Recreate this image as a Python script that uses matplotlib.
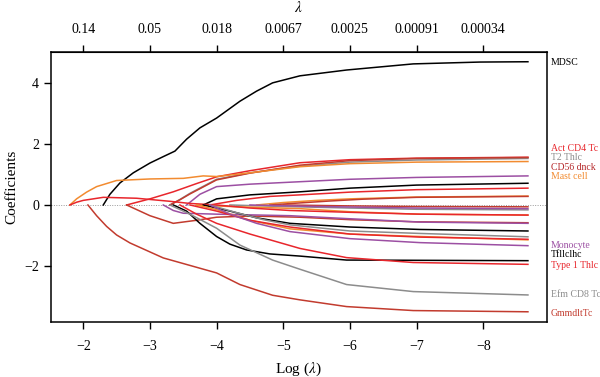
import matplotlib
matplotlib.use("Agg")
import matplotlib.pyplot as plt

plt.rcParams['font.family'] = ['Liberation Serif', 'DejaVu Serif']
plt.rcParams['mathtext.fontset'] = 'stix'

BLACK = '#000000'
RED = '#e8262c'
GRAY = '#8c8c8c'
ORANGE = '#f28b30'
PURPLE = '#9c4fa3'
BROWN = '#c23b2e'

# coefficient paths: (log lambda knots, coefficients, colour)
paths = [
    ([-2.3, -2.4, -2.55, -2.75, -3.0, -3.2, -3.375, -3.55, -3.75, -4.0, -4.35, -4.6, -4.84, -5.25, -5.95, -6.95, -7.95, -8.67],
     [0, 0.35, 0.72, 1.05, 1.37, 1.58, 1.76, 2.15, 2.52, 2.84, 3.39, 3.72, 3.99, 4.22, 4.41, 4.61, 4.67, 4.68], BLACK),
    ([-2.65, -3.0, -3.35, -3.7, -4.0, -4.5, -5.25, -6.0, -7.0, -8.67],
     [0, 0.2, 0.43, 0.7, 0.92, 1.12, 1.38, 1.48, 1.53, 1.56], RED),
    ([-3.3, -3.45, -3.6, -4.0, -4.5, -5.25, -6.0, -7.0, -8.67],
     [0, 0.18, 0.38, 0.84, 1.05, 1.27, 1.40, 1.47, 1.52], GRAY),
    ([-3.3, -3.45, -3.6, -4.0, -4.5, -5.25, -6.0, -7.0, -8.67],
     [0, 0.17, 0.36, 0.82, 1.04, 1.30, 1.45, 1.52, 1.55], BROWN),
    ([-1.8, -1.9, -2.05, -2.2, -2.5, -3.0, -3.5, -3.8, -4.0, -4.5, -5.25, -6.0, -7.0, -8.67],
     [0, 0.2, 0.42, 0.6, 0.8, 0.85, 0.87, 0.95, 0.93, 1.05, 1.25, 1.35, 1.4, 1.42], ORANGE),
    ([-3.55, -3.75, -4.0, -4.5, -5.25, -6.0, -7.0, -8.67],
     [0, 0.35, 0.6, 0.68, 0.76, 0.84, 0.9, 0.95], PURPLE),
    ([-3.8, -4.0, -4.5, -5.25, -6.0, -7.0, -8.67],
     [0, 0.2, 0.33, 0.43, 0.55, 0.65, 0.71], BLACK),
    ([-3.9, -4.3, -4.8, -5.25, -6.0, -7.0, -8.67],
     [0, 0.15, 0.28, 0.33, 0.42, 0.5, 0.55], RED),
    ([-4.6, -5.0, -5.5, -6.0, -7.0, -8.67],
     [0, 0.08, 0.15, 0.2, 0.26, 0.29], ORANGE),
    ([-4.8, -5.2, -5.7, -6.2, -7.0, -8.67],
     [0, 0.06, 0.13, 0.19, 0.25, 0.28], BROWN),
    ([-5.0, -6.0, -7.0, -8.67],
     [0, -0.03, -0.05, -0.06], BROWN),
    ([-4.2, -5.0, -6.0, -7.0, -8.67],
     [0, -0.05, -0.1, -0.14, -0.16], GRAY),
    ([-4.5, -5.5, -7.0, -8.67],
     [0, -0.05, -0.1, -0.12], PURPLE),
    ([-3.7, -4.2, -5.25, -6.0, -7.0, -8.67],
     [0, -0.05, -0.12, -0.22, -0.3, -0.33], ORANGE),
    ([-1.8, -1.9, -2.0, -2.3, -2.8, -3.3, -3.6, -4.0, -4.5, -5.1, -6.0, -7.05, -8.67],
     [0, 0.09, 0.15, 0.25, 0.22, 0.12, 0.05, 0, -0.1, -0.18, -0.24, -0.3, -0.33], RED),
    ([-2.65, -2.85, -3.0, -3.35, -3.7, -4.0, -4.5, -5.25, -6.0, -7.0, -8.67],
     [0, -0.2, -0.35, -0.6, -0.5, -0.4, -0.36, -0.4, -0.48, -0.55, -0.58], BROWN),
    ([-3.2, -3.35, -3.5, -4.0, -5.1, -6.0, -7.05, -8.67],
     [0, -0.18, -0.27, -0.3, -0.35, -0.45, -0.56, -0.60], PURPLE),
    ([-3.8, -4.2, -4.6, -5.1, -6.0, -7.05, -8.67],
     [0, -0.2, -0.42, -0.6, -0.72, -0.8, -0.85], BLACK),
    ([-3.9, -4.3, -4.7, -5.1, -6.0, -7.05, -8.67],
     [0, -0.25, -0.48, -0.65, -0.85, -0.93, -1.04], GRAY),
    ([-3.7, -4.0, -4.5, -5.1, -6.0, -7.05, -8.67],
     [0, -0.15, -0.5, -0.78, -0.95, -1.03, -1.14], ORANGE),
    ([-3.6, -4.0, -4.5, -5.1, -6.0, -7.05, -8.67],
     [0, -0.2, -0.5, -0.72, -0.95, -1.05, -1.12], RED),
    ([-3.9, -4.2, -4.6, -5.1, -6.0, -7.05, -8.67],
     [0, -0.3, -0.6, -0.87, -1.1, -1.23, -1.33], PURPLE),
    ([-3.35, -3.55, -3.75, -4.0, -4.2, -4.45, -4.8, -5.25, -5.95, -8.67],
     [0, -0.2, -0.6, -1.03, -1.28, -1.47, -1.6, -1.67, -1.8, -1.82], BLACK),
    ([-3.45, -3.7, -4.0, -4.5, -5.25, -5.95, -6.95, -8.67],
     [0, -0.3, -0.6, -0.95, -1.42, -1.72, -1.88, -1.94], RED),
    ([-3.3, -3.6, -4.0, -4.35, -4.84, -5.25, -5.95, -6.95, -8.67],
     [0, -0.3, -0.76, -1.31, -1.8, -2.1, -2.6, -2.83, -2.94], GRAY),
    ([-2.07, -2.2, -2.35, -2.5, -2.7, -3.2, -4.0, -4.35, -4.84, -5.25, -5.95, -6.95, -8.67],
     [0, -0.35, -0.7, -0.98, -1.24, -1.73, -2.22, -2.6, -2.95, -3.1, -3.32, -3.45, -3.49], BROWN),
]

# label names, y position and colour on the right side
label_names = ['MDSC', 'Act CD4 Tc', 'T2 Thlc', 'CD56 dnck', 'Mast cell',
               'Monocyte', 'Tfllclhc', 'Type 1 Thlc', 'Efm CD8 Tc', 'GmmdltTc']
label_y = [4.67, 1.83, 1.54, 1.23, 0.92, -1.31, -1.63, -1.99, -2.94, -3.56]
label_colors = [BLACK, RED, GRAY, '#b5282a', ORANGE, PURPLE, BLACK, RED, GRAY, BROWN]

log_ticks = [-2, -3, -4, -5, -6, -7, -8]
lambda_labels = ['0.14', '0.05', '0.018', '0.0067', '0.0025', '0.00091', '0.00034']

fig = plt.figure(figsize=(6, 3.77), dpi=100)
ax = fig.add_axes([0.085, 0.147, 0.826, 0.716])

ax.axhline(0, color='#999999', lw=0.7, ls=(0, (1, 1.5)), zorder=0)
for xs, ys, c in paths:
    ax.plot(xs, ys, color=c, lw=1.1)

ax.set_xlim(-1.516, -8.95)
ax.set_ylim(-3.81, 5.01)
ax.set_xticks(log_ticks)
ax.set_yticks([-2, 0, 2, 4])
ax.tick_params(direction='out', length=5, width=1, labelsize=10)
ax.tick_params(axis='x', pad=8)
ax.set_xlabel('Log ($\\lambda$)', fontsize=11, labelpad=6)
ax.set_ylabel('Coefficients', fontsize=11)
for s in ax.spines.values():
    s.set_linewidth(1.1)

top = ax.secondary_xaxis('top')
top.set_xticks(log_ticks)
top.set_xticklabels(lambda_labels)
top.tick_params(direction='out', length=5, width=1, labelsize=10, pad=6)
top.set_xlabel('$\\lambda$', fontsize=11, labelpad=8)

for name, y, c in zip(label_names, label_y, label_colors):
    ax.text(1.008, y, name, color=c, fontsize=7, va='center', ha='left',
            transform=ax.get_yaxis_transform(), clip_on=False)

fig.savefig('out.png', dpi=100)
